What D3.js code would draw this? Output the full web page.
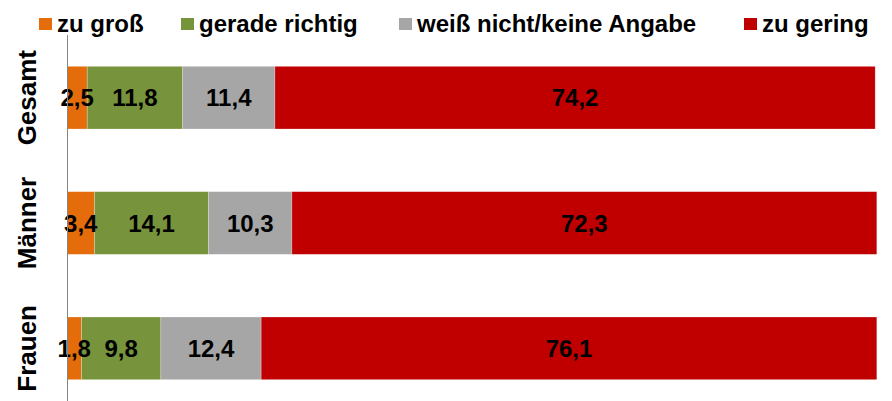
<!DOCTYPE html>
<html>
<head>
<meta charset="utf-8">
<script src="https://cdn.jsdelivr.net/npm/d3@7"></script>
<style>
  body { margin: 0; background: #fff; }
  text { font-family: Arial, "Liberation Sans", sans-serif; font-weight: bold; }
</style>
</head>
<body>
<div id="chart"></div>
<script>
// categories top to bottom
const categories = ['Gesamt', 'Männer', 'Frauen'];
const seriesNames = ['zu groß', 'gerade richtig', 'weiß nicht/keine Angabe', 'zu gering'];
const seriesColors = ['#E46C0A', '#77933C', '#A6A6A6', '#C00000'];

// values per series, in category order
const zuGross = [2.5, 3.4, 1.8];
const geradeRichtig = [11.8, 14.1, 9.8];
const weissNicht = [11.4, 10.3, 12.4];
const zuGering = [74.2, 72.3, 76.1];

const width = 892;
const height = 401;

const svg = d3.select('#chart')
  .append('svg')
  .attr('width', width)
  .attr('height', height);

// build rows for the stack
const rows = categories.map((c, i) => ({
  cat: c,
  'zu groß': zuGross[i],
  'gerade richtig': geradeRichtig[i],
  'weiß nicht/keine Angabe': weissNicht[i],
  'zu gering': zuGering[i]
}));

const stacked = d3.stack().keys(seriesNames)(rows);

const x = d3.scaleLinear()
  .domain([0, 100])
  .range([67, 876]);

const y = d3.scaleBand()
  .domain(categories)
  .range([35, 411])
  .paddingInner(0.5)
  .paddingOuter(0.25);

const color = d3.scaleOrdinal().domain(seriesNames).range(seriesColors);

// bars
svg.append('g')
  .selectAll('g')
  .data(stacked)
  .enter()
  .append('g')
  .attr('fill', d => color(d.key))
  .selectAll('rect')
  .data(d => d)
  .enter()
  .append('rect')
  .attr('x', d => x(d[0]))
  .attr('y', d => y(d.data.cat))
  .attr('width', d => x(d[1]) - x(d[0]))
  .attr('height', y.bandwidth())
  .attr('stroke', 'rgba(255,255,255,0.35)')
  .attr('stroke-width', 0.7);

// value labels, drawn on top of all bars
const fmt = v => String(v).replace('.', ',');
svg.append('g')
  .selectAll('g')
  .data(stacked)
  .enter()
  .append('g')
  .selectAll('text')
  .data(d => d)
  .enter()
  .append('text')
  .attr('x', d => (x(d[0]) + x(d[1])) / 2)
  .attr('y', d => y(d.data.cat) + y.bandwidth() / 2)
  .attr('dy', '0.36em')
  .attr('text-anchor', 'middle')
  .attr('font-size', 24)
  .attr('fill', '#000')
  .text(d => fmt(+(d[1] - d[0]).toFixed(1)));

// vertical axis line
svg.append('line')
  .attr('x1', 67.5).attr('x2', 67.5)
  .attr('y1', 35).attr('y2', height)
  .attr('stroke', '#868686')
  .attr('stroke-width', 1);

// category labels, rotated
svg.append('g')
  .selectAll('text')
  .data(categories)
  .enter()
  .append('text')
  .attr('transform', d => `translate(36, ${y(d) + y.bandwidth() / 2}) rotate(-90)`)
  .attr('text-anchor', 'middle')
  .attr('font-size', 26)
  .attr('fill', '#000')
  .text(d => d);

// legend
const legendX = [39, 181, 399, 744];
const legend = svg.append('g')
  .selectAll('g')
  .data(seriesNames)
  .enter()
  .append('g')
  .attr('transform', (d, i) => `translate(${legendX[i]}, 0)`);

legend.append('rect')
  .attr('x', 0).attr('y', 18)
  .attr('width', 13).attr('height', 12)
  .attr('fill', d => color(d));

legend.append('text')
  .attr('x', 18).attr('y', 32)
  .attr('font-size', 24)
  .attr('fill', '#000')
  .text(d => d);
</script>
</body>
</html>
